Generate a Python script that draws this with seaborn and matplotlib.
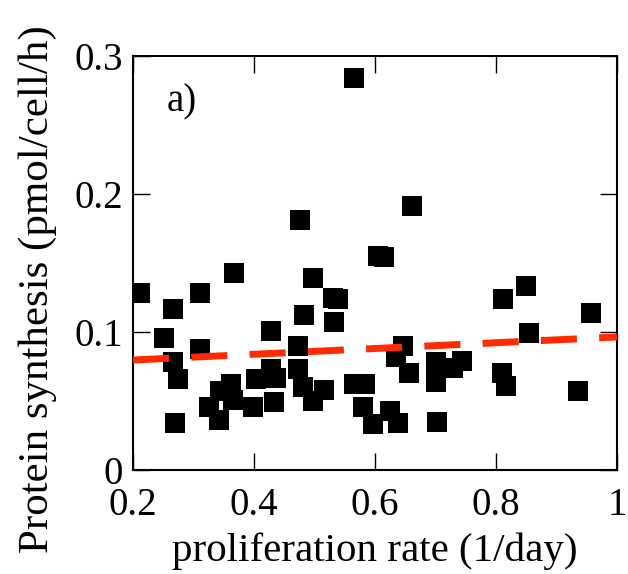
import matplotlib
matplotlib.use("Agg")
import matplotlib.pyplot as plt
import pandas as pd
import seaborn as sns

# proliferation rate (1/day) and protein synthesis (pmol/cell/h)
prolif = [0.212, 0.266, 0.311, 0.367, 0.251, 0.311, 0.266, 0.274, 0.269, 0.326,
          0.342, 0.344, 0.362, 0.365, 0.403, 0.398, 0.433, 0.428, 0.436, 0.428,
          0.473, 0.473, 0.481, 0.498, 0.516, 0.476, 0.498, 0.531, 0.539, 0.483,
          0.532, 0.565, 0.565, 0.583, 0.580, 0.597, 0.625, 0.638, 0.646, 0.635,
          0.656, 0.605, 0.615, 0.661, 0.701, 0.701, 0.744, 0.729, 0.702, 0.810,
          0.817, 0.812, 0.850, 0.855, 0.936, 0.957]
synth = [0.128, 0.117, 0.128, 0.143, 0.096, 0.088, 0.078, 0.066, 0.034, 0.046,
         0.036, 0.057, 0.062, 0.051, 0.066, 0.046, 0.049, 0.073, 0.067, 0.101,
         0.090, 0.073, 0.060, 0.050, 0.058, 0.181, 0.139, 0.125, 0.124, 0.112,
         0.107, 0.284, 0.062, 0.062, 0.046, 0.033, 0.043, 0.034, 0.090, 0.082,
         0.070, 0.155, 0.154, 0.191, 0.078, 0.064, 0.079, 0.074, 0.035, 0.070,
         0.061, 0.124, 0.133, 0.099, 0.057, 0.114]

# linear fit line
fit_x = [0.2, 1.0]
fit_y = [0.0797, 0.0964]

x_ticks = [0.2, 0.4, 0.6, 0.8, 1.0]
x_labels = ["0.2", "0.4", "0.6", "0.8", "1"]
y_ticks = [0, 0.1, 0.2, 0.3]
y_labels = ["0", "0.1", "0.2", "0.3"]

sns.set_style("ticks")
plt.rcParams["font.family"] = ["Liberation Serif", "DejaVu Serif"]
plt.rcParams["text.color"] = "black"
plt.rcParams["axes.labelcolor"] = "black"
plt.rcParams["xtick.color"] = "black"
plt.rcParams["ytick.color"] = "black"

df = pd.DataFrame({"prolif": prolif, "synth": synth})
fit = pd.DataFrame({"x": fit_x, "y": fit_y})

fig = plt.figure(figsize=(6.28, 5.74), dpi=100)
ax = fig.add_axes([0.2118, 0.1812, 0.7707, 0.7212])

sns.scatterplot(data=df, x="prolif", y="synth", marker="s", color="black",
                s=207, linewidth=0, ax=ax, zorder=2)
sns.lineplot(data=fit, x="x", y="y", color="#ff2a00", linewidth=5,
             ax=ax, zorder=3)
ax.lines[-1].set_dashes((5.2, 3.2))

ax.set_xlim(0.2, 1.0)
ax.set_ylim(0, 0.3)
ax.set_xticks(x_ticks)
ax.set_xticklabels(x_labels)
ax.set_yticks(y_ticks)
ax.set_yticklabels(y_labels)
ax.tick_params(direction="in", length=12, width=1, labelsize=28,
               top=True, right=True, colors="black")
ax.tick_params(axis="x", pad=12)
ax.tick_params(axis="y", pad=7)
for s in ax.spines.values():
    s.set_linewidth(1.5)
    s.set_color("black")

ax.set_xlabel("proliferation rate (1/day)", fontsize=29.5, labelpad=6)
ax.set_ylabel("Protein synthesis (pmol/cell/h)", fontsize=31)
ax.yaxis.set_label_coords(-0.157, 0.437)
ax.text(0.07, 0.89, "a)", transform=ax.transAxes, fontsize=28,
        va="center", ha="left")

fig.savefig("out.png", dpi=100)
